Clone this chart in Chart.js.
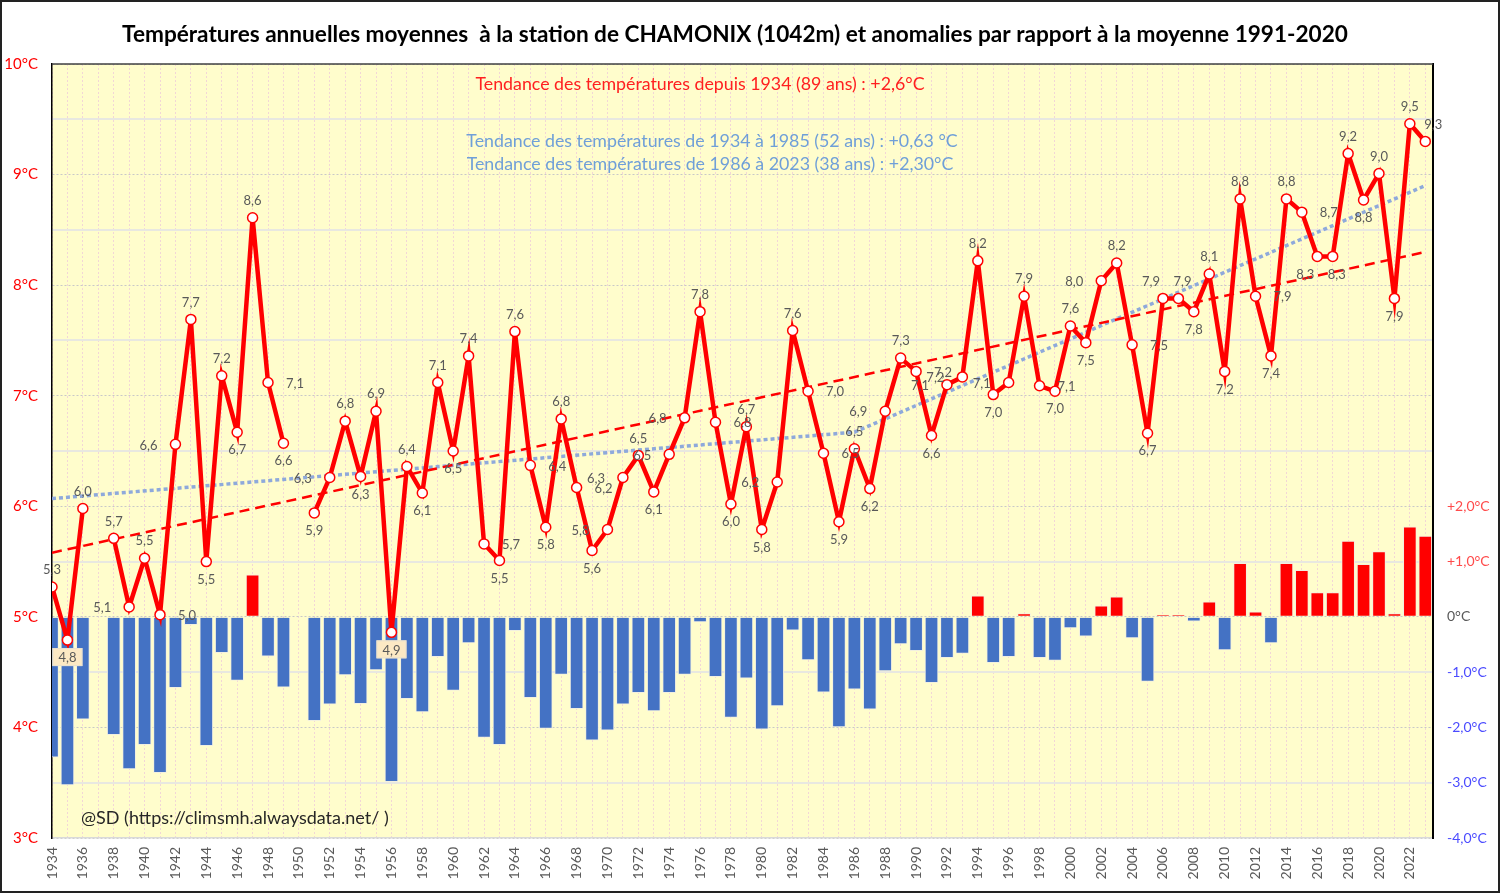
<!DOCTYPE html>
<html>
<head>
<meta charset="utf-8">
<script src="https://cdn.jsdelivr.net/npm/chart.js@4"></script>
<style>
  html, body { margin: 0; padding: 0; background: #fff; }
</style>
</head>
<body>
<canvas id="canvas1" width="1500" height="893"></canvas>
<script>
// Données
let years = [];
for (let y = 1934; y <= 2023; y++) years.push(y);

let temps = [
  5.27, 4.79, 5.98, null, 5.71, 5.09, 5.53, 5.02, 6.56, 7.69,
  5.50, 7.18, 6.67, 8.61, 7.12, 6.57, null, 5.94, 6.26, 6.77,
  6.27, 6.86, 4.86, 6.36, 6.12, 7.12, 6.50, 7.36, 5.66, 5.51,
  7.58, 6.37, 5.81, 6.79, 6.17, 5.60, 5.79, 6.26, 6.46, 6.13,
  6.47, 6.80, 7.76, 6.76, 6.02, 6.72, 5.79, 6.22, 7.59, 7.04,
  6.48, 5.86, 6.52, 6.16, 6.86, 7.34, 7.22, 6.64, 7.10, 7.17,
  8.22, 7.01, 7.12, 7.90, 7.09, 7.04, 7.63, 7.48, 8.04, 8.20,
  7.46, 6.66, 7.88, 7.88, 7.76, 8.10, 7.22, 8.78, 7.90, 7.36,
  8.78, 8.66, 8.26, 8.26, 9.19, 8.77, 9.01, 7.88, 9.46, 9.30
];

let anomalies = [
  -2.54, -3.04, -1.85, null, -2.13, -2.75, -2.31, -2.82, -1.28, -0.14,
  -2.33, -0.65, -1.15, 0.76, -0.71, -1.27, null, -1.88, -1.58, -1.05,
  -1.57, -0.96, -2.98, -1.48, -1.72, -0.72, -1.33, -0.47, -2.18, -2.31,
  -0.25, -1.46, -2.02, -1.04, -1.66, -2.23, -2.05, -1.58, -1.37, -1.70,
  -1.37, -1.04, -0.09, -1.08, -1.82, -1.11, -2.03, -1.61, -0.24, -0.78,
  -1.36, -1.99, -1.31, -1.67, -0.98, -0.49, -0.61, -1.19, -0.74, -0.66,
  0.38, -0.83, -0.72, 0.06, -0.74, -0.79, -0.20, -0.35, 0.20, 0.36,
  -0.38, -1.17, 0.03, 0.03, -0.08, 0.27, -0.60, 0.97, 0.09, -0.47,
  0.97, 0.84, 0.44, 0.44, 1.37, 0.95, 1.18, 0.06, 1.63, 1.46
];

// Tendances
let trendAllYears = [1934, 2023];
let trendAllValues = [5.58, 8.30];
let trendSplitYears = [1934, 1986, 2023];
let trendSplitValues = [6.07, 6.67, 8.90];

let leftTicks = [3, 4, 5, 6, 7, 8, 9, 10];

const FONT = "Lato, 'Noto Sans', sans-serif";
const fmt = v => v.toFixed(1).replace('.', ',');

// fond jaune de la zone de tracé
const backgroundPlugin = {
  id: 'bg',
  beforeDraw(chart) {
    const { ctx, chartArea: a } = chart;
    ctx.save();
    ctx.fillStyle = '#fff';
    ctx.fillRect(0, 0, chart.width, chart.height);
    ctx.fillStyle = '#FFFDCC';
    ctx.fillRect(a.left, a.top, a.right - a.left, a.bottom - a.top);
    ctx.restore();
  }
};

// étiquettes des points
const labelPlugin = {
  id: 'pointLabels',
  afterDatasetsDraw(chart) {
    const meta = chart.getDatasetMeta(3);
    const ctx = chart.ctx;
    ctx.save();
    ctx.font = '13px ' + FONT;
    ctx.textAlign = 'center';
    ctx.textBaseline = 'middle';
    meta.data.forEach((pt, i) => {
      const v = temps[i];
      if (v === null) return;
      const p = i > 0 ? temps[i - 1] : null;
      const n = i < temps.length - 1 ? temps[i + 1] : null;
      let dx = 0, dy = 0;
      if (p === null && n === null) dy = -18;
      else if (p === null) dy = v > n ? -18 : 17;
      else if (i === temps.length - 1) { dy = -18; dx = 8; }
      else if (n === null) dy = v > p ? -18 : 17;
      else if (v >= p && v >= n) dy = -18;
      else if (v <= p && v <= n) {
        if (v >= 5 && v < 5.2) dx = p > n ? -27 : 27;
        else dy = 17;
      }
      else if (v > p) dx = -27;
      else dx = 27;
      if (v === n) dx -= 12;
      if (v === p) dx += 4;
      const x = pt.x + dx, y = pt.y + dy;
      const txt = fmt(v);
      if (v < 5) {
        const w = ctx.measureText(txt).width + 12;
        ctx.fillStyle = '#FCE9C4';
        ctx.fillRect(x - w / 2, y - 9, w, 18);
        ctx.strokeStyle = '#E8E0D0';
        ctx.lineWidth = 1;
        ctx.strokeRect(x - w / 2 + 0.5, y - 8.5, w - 1, 17);
      }
      ctx.fillStyle = '#595959';
      ctx.fillText(txt, x, y + 1);
    });
    ctx.restore();
  }
};

// titre, textes et cadre
const textPlugin = {
  id: 'texts',
  afterDraw(chart) {
    const { ctx, chartArea: a } = chart;
    ctx.save();
    ctx.strokeStyle = '#404040';
    ctx.lineWidth = 1.5;
    ctx.beginPath();
    ctx.moveTo(a.left, a.top);
    ctx.lineTo(a.right, a.top);
    ctx.stroke();

    ctx.textAlign = 'center';
    ctx.textBaseline = 'middle';
    ctx.fillStyle = '#000';
    ctx.font = 'bold 22.6px ' + FONT;
    ctx.fillText('Températures annuelles moyennes  à la station de CHAMONIX (1042m) et anomalies par rapport à la moyenne 1991-2020', 735, 35);

    ctx.font = '17.8px ' + FONT;
    ctx.fillStyle = '#FF2020';
    ctx.fillText('Tendance des températures depuis 1934 (89 ans) : +2,6°C', 700, 84);
    ctx.fillStyle = '#6F9FD8';
    ctx.fillText('Tendance des températures de 1934 à 1985 (52 ans) : +0,63 °C', 712, 141);
    ctx.fillText('Tendance des températures de 1986 à 2023 (38 ans) : +2,30°C', 710, 164);

    ctx.textAlign = 'left';
    ctx.fillStyle = '#262626';
    ctx.font = '18px ' + FONT;
    ctx.fillText('@SD (https://climsmh.alwaysdata.net/ )', 81, 818);

    ctx.strokeStyle = '#222';
    ctx.lineWidth = 2;
    ctx.strokeRect(1, 1, chart.width - 2, chart.height - 2);
    ctx.restore();
  }
};

let myChart1 = document.querySelector('#canvas1').getContext('2d');

let chart = new Chart(myChart1, {
  type: 'bar',
  data: {
    datasets: [
      {
        type: 'bar',
        label: 'Anomalies',
        yAxisID: 'y2',
        order: 3,
        data: years.map((y, i) => ({ x: y, y: anomalies[i] })),
        backgroundColor: ctx => (ctx.raw && ctx.raw.y > 0 ? '#FF0000' : '#4472C4'),
        borderColor: '#F2F0E0',
        borderWidth: 1,
        barThickness: 13
      },
      {
        type: 'line',
        label: 'Tendance 1934-2023',
        yAxisID: 'y',
        order: 2,
        data: trendAllYears.map((y, i) => ({ x: y, y: trendAllValues[i] })),
        borderColor: '#FF0000',
        borderWidth: 2.5,
        borderDash: [10, 6],
        pointRadius: 0,
        tension: 0
      },
      {
        type: 'line',
        label: 'Tendances 1934-1985 / 1986-2023',
        yAxisID: 'y',
        order: 2,
        data: trendSplitYears.map((y, i) => ({ x: y, y: trendSplitValues[i] })),
        borderColor: '#8EA9DB',
        borderWidth: 3.5,
        borderDash: [4, 3],
        pointRadius: 0,
        tension: 0
      },
      {
        type: 'line',
        label: 'Température moyenne',
        yAxisID: 'y',
        order: 1,
        data: years.map((y, i) => ({ x: y, y: temps[i] })),
        borderColor: '#FF0000',
        borderWidth: 4.5,
        pointRadius: 5,
        pointBackgroundColor: '#FFFFFF',
        pointBorderColor: '#FF0000',
        pointBorderWidth: 1.5,
        spanGaps: false,
        tension: 0
      }
    ]
  },
  options: {
    responsive: false,
    animation: false,
    events: [],
    layout: { padding: { top: 64, left: 0, right: 0, bottom: 0 } },
    plugins: { legend: { display: false }, tooltip: { enabled: false } },
    scales: {
      x: {
        type: 'linear',
        min: 1934,
        max: 2023.5,
        offset: false,
        afterBuildTicks: s => { s.ticks = years.map(y => ({ value: y })); },
        afterFit: s => { s.height = 55; },
        ticks: {
          autoSkip: false,
          minRotation: 90,
          maxRotation: 90,
          padding: 9,
          color: '#595959',
          font: { family: FONT, size: 14 },
          callback: v => (v % 2 === 0 ? String(v) : '')
        },
        grid: { color: '#F2D6D6', lineWidth: 1, drawTicks: false, offset: false },
        border: { color: '#D9D9D9', width: 1.5, dash: [2, 2] }
      },
      y: {
        position: 'left',
        min: 3,
        max: 10,
        afterBuildTicks: s => { s.ticks = leftTicks.map(v => ({ value: v })); },
        afterFit: s => { s.width = 52; },
        ticks: {
          padding: 14,
          color: '#FF0000',
          font: { family: FONT, size: 15 },
          callback: v => v + '°C'
        },
        grid: { color: '#C8C8C8', lineWidth: 1, drawTicks: false },
        border: { color: '#000000', width: 1.5, dash: [2, 2] }
      },
      y2: {
        position: 'right',
        min: -4,
        max: 10,
        afterFit: s => { s.width = 67; },
        ticks: {
          stepSize: 1,
          padding: 14,
          font: { family: FONT, size: 14 },
          color: ctx => {
            const v = ctx.tick.value;
            return v > 0 ? '#FF4B4B' : v < 0 ? '#4B4BFF' : '#595959';
          },
          callback: v => {
            if (v > 2) return '';
            if (v === 0) return '0°C';
            return (v > 0 ? '+' : '') + fmt(v) + '°C';
          }
        },
        grid: {
          color: ctx => (Math.abs(ctx.tick.value) % 2 === 1 ? '#E8E8E0' : 'rgba(0,0,0,0)'),
          lineWidth: 2,
          drawTicks: false
        },
        border: { color: '#000000', width: 2 }
      }
    }
  },
  plugins: [backgroundPlugin, labelPlugin, textPlugin]
});
</script>
</body>
</html>
